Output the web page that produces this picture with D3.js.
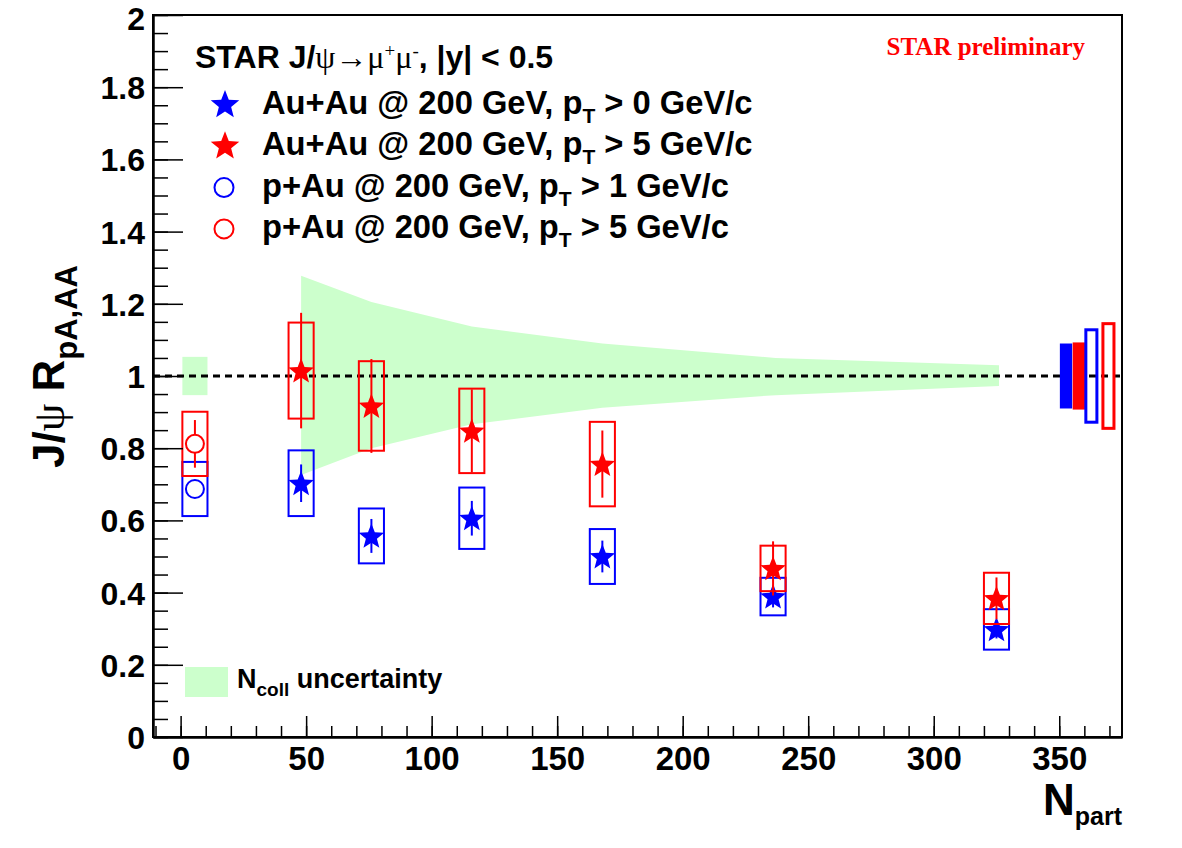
<!DOCTYPE html>
<html>
<head>
<meta charset="utf-8">
<script src="https://cdn.jsdelivr.net/npm/d3@7"></script>
<style>
  body { margin: 0; background: #fff; }
  svg { display: block; }
  text { font-family: "Liberation Sans", Arial, sans-serif; font-weight: bold; fill: #000; }
  .sym { font-family: "Liberation Serif", "DejaVu Serif", serif; font-weight: normal; }
</style>
</head>
<body>
<svg id="chart" width="1182" height="848"></svg>
<script>
// Au+Au centrality bins (N_part)
const npartAuAu = [48, 76, 116, 168, 236, 325];
// Au+Au, pT > 0 GeV/c
const rAuAuLow = [0.703, 0.557, 0.606, 0.500, 0.389, 0.298];
const statAuAuLow = [0.052, 0.047, 0.048, 0.044, 0.030, 0.025];
const sysAuAuLow = [0.091, 0.076, 0.085, 0.076, 0.052, 0.056];
// Au+Au, pT > 5 GeV/c
const rAuAuHigh = [1.015, 0.917, 0.848, 0.756, 0.467, 0.384];
const statAuAuHigh = [0.160, 0.130, 0.115, 0.093, 0.075, 0.058];
const sysAuAuHigh = [0.133, 0.124, 0.117, 0.117, 0.063, 0.071];
// p+Au
const npartPAu = [5.7];
const rPAuLow = [0.687];
const statPAuLow = [0.02];
const sysPAuLow = [0.075];
const rPAuHigh = [0.812];
const statPAuHigh = [0.066];
const sysPAuHigh = [0.089];
// N_coll uncertainty band
const ncollNpart = [48, 76, 116, 168, 237, 326];
const ncollUpper = [1.278, 1.205, 1.137, 1.090, 1.050, 1.030];
const ncollLower = [0.726, 0.800, 0.866, 0.912, 0.947, 0.972];
const ncollPAu = [0.053];
// global uncertainties drawn at the right edge
const globalNpart = [352.7, 357.8, 362.8, 369.6];
const globalSys = [0.090, 0.093, 0.128, 0.145];
const globalColor = ["#0000ff", "#ff0000", "#0000ff", "#ff0000"];
const globalFilled = [true, true, false, false];

const xTicks = [0, 50, 100, 150, 200, 250, 300, 350];
const yTicks = [0, 0.2, 0.4, 0.6, 0.8, 1, 1.2, 1.4, 1.6, 1.8, 2];

const BLUE = "#0000ff", RED = "#ff0000", GREEN = "#ccffcc";

const svg = d3.select("#chart");
const x = d3.scaleLinear().domain([-11, 375]).range([153, 1122]);
const y = d3.scaleLinear().domain([0, 2]).range([737, 15]);

// N_coll band
const band = ncollNpart.map((n, i) => ({ n, hi: ncollUpper[i], lo: ncollLower[i] }));
svg.append("path")
  .datum(band)
  .attr("fill", GREEN)
  .attr("d", d3.area().x(d => x(d.n)).y0(d => y(d.lo)).y1(d => y(d.hi)));
svg.selectAll(".ncollpa").data(npartPAu).join("rect")
  .attr("fill", GREEN)
  .attr("x", d => x(d - 5))
  .attr("width", d => x(d + 5) - x(d - 5))
  .attr("y", (d, i) => y(1 + ncollPAu[i]))
  .attr("height", (d, i) => y(1 - ncollPAu[i]) - y(1 + ncollPAu[i]));

// unity line
svg.append("line")
  .attr("x1", x(-11)).attr("x2", x(375))
  .attr("y1", y(1)).attr("y2", y(1))
  .attr("stroke", "#000").attr("stroke-width", 3)
  .attr("stroke-dasharray", "7,5");

// global uncertainty boxes
globalNpart.forEach((n, i) => {
  const filled = globalFilled[i];
  const hw = filled ? 2.45 : 2.2;
  svg.append("rect")
    .attr("x", x(n - hw)).attr("width", x(n + hw) - x(n - hw))
    .attr("y", y(1 + globalSys[i])).attr("height", y(1 - globalSys[i]) - y(1 + globalSys[i]))
    .attr("fill", filled ? globalColor[i] : "none")
    .attr("stroke", filled ? "none" : globalColor[i])
    .attr("stroke-width", 3);
});

// five-point star a bit plumper than d3.symbolStar, like ROOT marker 29
function star(r) {
  const inner = r * 0.43, p = d3.path();
  for (let k = 0; k < 10; k++) {
    const a = -Math.PI / 2 + k * Math.PI / 5, rr = k % 2 ? inner : r;
    if (k === 0) p.moveTo(rr * Math.cos(a), rr * Math.sin(a));
    else p.lineTo(rr * Math.cos(a), rr * Math.sin(a));
  }
  p.closePath();
  return p.toString();
}

function drawSeries(npart, vals, stat, sys, color, marker) {
  const g = svg.append("g");
  const rows = npart.map((n, i) => ({ n, v: vals[i], e: stat[i], s: sys[i] }));
  g.selectAll("rect").data(rows).join("rect")
    .attr("x", d => x(d.n - 5)).attr("width", d => x(d.n + 5) - x(d.n - 5))
    .attr("y", d => y(d.v + d.s)).attr("height", d => y(d.v - d.s) - y(d.v + d.s))
    .attr("fill", "none").attr("stroke", color).attr("stroke-width", 2);
  g.selectAll("line").data(rows).join("line")
    .attr("x1", d => x(d.n)).attr("x2", d => x(d.n))
    .attr("y1", d => y(d.v + d.e)).attr("y2", d => y(d.v - d.e))
    .attr("stroke", color).attr("stroke-width", 2);
  if (marker === "star") {
    g.selectAll("path").data(rows).join("path")
      .attr("transform", d => `translate(${x(d.n)},${y(d.v) + 1})`)
      .attr("d", star(13.5)).attr("fill", color);
  } else {
    g.selectAll("circle").data(rows).join("circle")
      .attr("cx", d => x(d.n)).attr("cy", d => y(d.v)).attr("r", 9)
      .attr("fill", "#fff").attr("stroke", color).attr("stroke-width", 2);
  }
}
drawSeries(npartPAu, rPAuLow, statPAuLow, sysPAuLow, BLUE, "circle");
drawSeries(npartPAu, rPAuHigh, statPAuHigh, sysPAuHigh, RED, "circle");
drawSeries(npartAuAu, rAuAuLow, statAuAuLow, sysAuAuLow, BLUE, "star");
drawSeries(npartAuAu, rAuAuHigh, statAuAuHigh, sysAuAuHigh, RED, "star");

// frame and axes
svg.append("rect")
  .attr("x", 153).attr("y", 15).attr("width", 1122 - 153).attr("height", 737 - 15)
  .attr("fill", "none").attr("stroke", "#000").attr("stroke-width", 2);

const yAxis = svg.append("g").attr("transform", "translate(153,0)")
  .call(d3.axisLeft(y).tickValues(yTicks).tickSizeInner(-30).tickSizeOuter(0).tickPadding(8)
    .tickFormat(d3.format("~g")));
svg.append("g").attr("transform", "translate(153,0)")
  .call(d3.axisLeft(y).ticks(40).tickSizeInner(-15).tickSizeOuter(0).tickFormat(""));
const xAxis = svg.append("g").attr("transform", "translate(0,737)")
  .call(d3.axisBottom(x).tickValues(xTicks).tickSizeInner(-21).tickSizeOuter(0).tickPadding(10));
svg.append("g").attr("transform", "translate(0,737)")
  .call(d3.axisBottom(x).tickValues(d3.range(-10, 375, 10)).tickSizeInner(-11).tickSizeOuter(0).tickFormat(""));
svg.selectAll(".domain").attr("stroke-width", 2);
svg.selectAll(".tick line").attr("stroke-width", 1.5);
yAxis.selectAll("text").attr("font-size", 32).attr("dy", d => d === 2 ? "0.45em" : "0.36em");
xAxis.selectAll("text").attr("font-size", 33);

// axis titles
const yt = svg.append("text").attr("transform", "translate(64,468) rotate(-90)").attr("font-size", 44);
yt.append("tspan").text("J/");
yt.append("tspan").attr("class", "sym").text("ψ");
yt.append("tspan").text(" R");
yt.append("tspan").attr("font-size", 31).attr("dy", 13).text("pA,AA");

const xt = svg.append("text").attr("x", 1122).attr("y", 815).attr("text-anchor", "end").attr("font-size", 44);
xt.append("tspan").text("N");
xt.append("tspan").attr("font-size", 25).attr("dy", 10).text("part");

// header
const hd = svg.append("text").attr("x", 195).attr("y", 68).attr("font-size", 32);
hd.append("tspan").text("STAR J/");
hd.append("tspan").attr("class", "sym").text("ψ→μ");
hd.append("tspan").attr("class", "sym").attr("font-size", 19).attr("dy", -11).text("+");
hd.append("tspan").attr("class", "sym").attr("dy", 11).text("μ");
hd.append("tspan").attr("class", "sym").attr("font-size", 19).attr("dy", -11).text("-");
hd.append("tspan").attr("dy", 11).text(", |y| < 0.5");

svg.append("text").attr("x", 1085).attr("y", 55).attr("text-anchor", "end")
  .attr("font-size", 25)
  .style("font-family", '"Liberation Serif", "Times New Roman", serif')
  .style("fill", RED).text("STAR preliminary");

// legend
const legendSystem = ["Au+Au", "Au+Au", "p+Au", "p+Au"];
const legendPt = ["0", "5", "1", "5"];
const legendColor = [BLUE, RED, BLUE, RED];
const legendMarker = ["star", "star", "circle", "circle"];
legendSystem.forEach((sys, i) => {
  const cy = 104 + 41.3 * i;
  if (legendMarker[i] === "star") {
    svg.append("path").attr("transform", `translate(225,${cy + 1})`).attr("d", star(15)).attr("fill", legendColor[i]);
  } else {
    svg.append("circle").attr("cx", 224).attr("cy", cy + 1).attr("r", 9.5)
      .attr("fill", "none").attr("stroke", legendColor[i]).attr("stroke-width", 2);
  }
  const t = svg.append("text").attr("x", 262).attr("y", cy + 10).attr("font-size", 32.7);
  t.append("tspan").text(`${sys} @ 200 GeV, p`);
  t.append("tspan").attr("font-size", 21).attr("dy", 9).text("T");
  t.append("tspan").attr("dy", -9).text(` > ${legendPt[i]} GeV/c`);
});

svg.append("rect").attr("x", 185).attr("y", 667).attr("width", 43).attr("height", 30).attr("fill", GREEN);
const nl = svg.append("text").attr("x", 237).attr("y", 688).attr("font-size", 27);
nl.append("tspan").text("N");
nl.append("tspan").attr("font-size", 19).attr("dy", 8).text("coll");
nl.append("tspan").attr("dy", -8).text(" uncertainty");
</script>
</body>
</html>
